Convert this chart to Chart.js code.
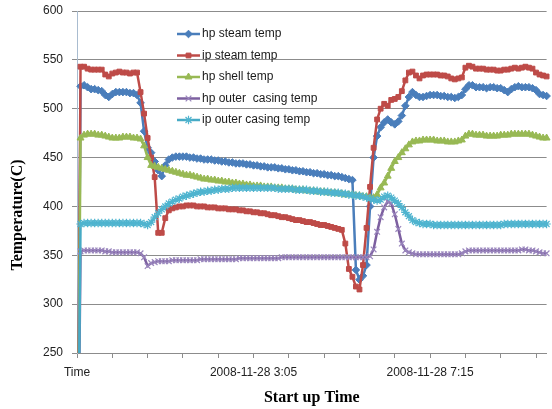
<!DOCTYPE html>
<html><head><meta charset="utf-8">
<script src="https://cdn.jsdelivr.net/npm/chart.js@4.4.0/dist/chart.umd.min.js"></script>
<style>html,body{margin:0;padding:0;background:#fff;overflow:hidden}#wrap{width:552px;height:409px;position:relative}</style>
</head><body><div id="wrap"><canvas id="c" width="552" height="409"></canvas></div>
<script>
// ---- DATA ----
const seriesNames = ['hp steam temp', 'ip steam temp', 'hp shell temp', 'hp outer  casing temp', 'ip outer casing temp'];

// category 0 is the header cell "Time"; then 5-minute samples from 2008-11-27 23:00
const categories = ['Time'];
for (let k = 0; k < 133; k++) {
  const t = 23 * 60 + 5 * k;
  const day = t >= 1440 ? 28 : 27;
  const m = t % 1440;
  categories.push('2008-11-' + day + ' ' + Math.floor(m / 60) + ':' + String(m % 60).padStart(2, '0'));
}
const labelEvery = 50;   // axis label interval (categories)
const tickMarkEvery = 10; // tick-mark interval (categories)

const hpSteamTemp = [0,
 523, 524, 522, 520, 520, 519, 518, 514, 512, 515,
 517, 517, 517, 517, 516, 516, 514, 506, 477, 460,
 455, 446, 437, 431, 442, 448, 450, 451, 451, 451,
 451, 450, 450, 449, 449, 448, 448, 448, 447, 447,
 446, 446, 445, 445, 444, 444, 444, 443, 443, 442,
 442, 441, 441, 440, 440, 440, 439, 439, 438, 438,
 437, 437, 436, 436, 435, 435, 434, 434, 433, 433,
 432, 432, 431, 431, 430, 429, 428, 427, 335, 325,
 329, 340, 400, 450, 472, 481, 486, 489, 486, 484,
 487, 493, 503, 512, 517, 514, 512, 512, 513, 514,
 514, 514, 513, 513, 512, 512, 511, 512, 514, 520,
 524, 524, 522, 522, 522, 521, 522, 522, 521, 521,
 519, 517, 520, 522, 523, 522, 522, 522, 521, 519,
 515, 514, 513];

const ipSteamTemp = [0,
 543, 543, 541, 540, 540, 540, 540, 535, 533, 536,
 537, 538, 537, 537, 536, 537, 537, 517, 495, 470,
 450, 430, 373, 373, 388, 396, 398, 399, 400, 400,
 401, 401, 401, 400, 400, 400, 399, 399, 399, 398,
 398, 398, 397, 397, 397, 396, 396, 395, 395, 394,
 394, 393, 393, 392, 391, 391, 390, 389, 389, 388,
 387, 386, 386, 385, 384, 384, 383, 382, 381, 381,
 380, 379, 378, 377, 376, 362, 336, 328, 318, 315,
 340, 378, 420, 460, 489, 500, 505, 503, 509, 510,
 512, 518, 529, 537, 538, 534, 531, 534, 535, 535,
 535, 535, 534, 534, 533, 531, 530, 531, 532, 542,
 544, 543, 541, 541, 541, 540, 540, 540, 539, 539,
 540, 540, 541, 542, 541, 542, 543, 542, 541, 537,
 535, 534, 533];

const hpShellTemp = [0,
 470, 473, 474, 474, 474, 473, 473, 472, 471, 470,
 470, 470, 471, 471, 471, 470, 470, 469, 462, 450,
 442, 441, 440, 439, 438, 437, 436, 435, 434, 433,
 432, 432, 431, 430, 429, 428, 428, 427, 427, 426,
 426, 425, 425, 424, 424, 423, 423, 422, 422, 421,
 421, 421, 420, 420, 420, 419, 419, 419, 418, 418,
 418, 417, 417, 417, 416, 416, 416, 415, 415, 415,
 414, 414, 414, 413, 413, 412, 412, 412, 411, 411,
 410, 410, 409, 409, 412, 419, 424, 431, 439, 446,
 450, 455, 459, 463, 466, 467, 467, 468, 468, 468,
 468, 467, 467, 467, 466, 466, 466, 467, 468, 472,
 474, 474, 473, 473, 473, 472, 472, 472, 472, 473,
 473, 473, 474, 474, 474, 474, 474, 474, 473, 472,
 471, 470, 470];

const hpOuterCasingTemp = [0,
 354, 355, 355, 355, 355, 355, 355, 354, 354, 353,
 353, 353, 353, 353, 353, 353, 353, 352, 348, 339,
 342, 343, 344, 344, 344, 344, 345, 345, 345, 345,
 345, 345, 345, 345, 346, 346, 346, 346, 346, 346,
 346, 346, 346, 346, 346, 347, 347, 347, 347, 347,
 347, 347, 347, 347, 347, 347, 347, 348, 348, 348,
 348, 348, 348, 348, 348, 348, 348, 348, 348, 348,
 348, 348, 348, 348, 348, 348, 348, 348, 348, 348,
 348, 348, 349, 356, 374, 389, 399, 405, 403, 392,
 377, 362, 355, 353, 352, 351, 351, 351, 351, 351,
 351, 351, 351, 351, 351, 351, 351, 351, 352, 354,
 355, 355, 355, 355, 355, 355, 355, 355, 355, 355,
 355, 355, 355, 355, 355, 356, 356, 355, 355, 354,
 353, 352, 352];

const ipOuterCasingTemp = [0,
 382, 383, 383, 383, 383, 383, 383, 383, 383, 383,
 383, 383, 383, 383, 383, 383, 383, 383, 382, 381,
 384, 389, 393, 397, 400, 403, 405, 407, 408, 410,
 411, 412, 413, 414, 415, 415, 416, 416, 417, 417,
 418, 418, 418, 419, 419, 419, 419, 419, 419, 419,
 419, 419, 419, 419, 419, 419, 418, 418, 418, 418,
 418, 417, 417, 417, 417, 416, 416, 416, 415, 415,
 415, 414, 414, 414, 413, 413, 412, 412, 411, 411,
 410, 409, 408, 407, 406, 407, 410, 411, 409, 406,
 403, 399, 394, 390, 386, 384, 383, 382, 382, 382,
 381, 381, 381, 381, 381, 381, 381, 381, 381, 381,
 381, 381, 381, 381, 381, 381, 381, 381, 381, 381,
 382, 382, 382, 382, 382, 382, 382, 382, 382, 382,
 382, 382, 382];

const yTicks = { min: 250, max: 600, step: 50 };
const xTitle = 'Start up Time';
const yTitle = 'Temperature(C)';

// ---- STYLE ----
const SANS = '"Liberation Sans", Arial, sans-serif';
const SERIF = '"Liberation Serif", "Times New Roman", serif';

const styles = [
  { color: '#4a7ebb', point: 'rectRot', r: 3.8, pbw: 1 },
  { color: '#be4b48', point: 'rect', r: 3.4, pbw: 1 },
  { color: '#98b954', point: 'triangle', r: 4, pbw: 1 },
  { color: '#7d60a0', pcolor: '#9a86bd', point: 'crossRot', r: 4, pbw: 1.2 },
  { color: '#46aac5', pcolor: '#4fb4cf', point: 'star', r: 4.2, pbw: 1.2 }
];
const seriesValues = [hpSteamTemp, ipSteamTemp, hpShellTemp, hpOuterCasingTemp, ipOuterCasingTemp];

const datasets = seriesValues.map((vals, i) => ({
  label: seriesNames[i],
  data: vals,
  borderColor: styles[i].color,
  backgroundColor: styles[i].color,
  borderWidth: 2.5,
  tension: 0,
  pointStyle: styles[i].point,
  pointRadius: styles[i].r,
  pointBorderWidth: styles[i].pbw,
  pointBackgroundColor: styles[i].pcolor || styles[i].color,
  pointBorderColor: styles[i].pcolor || styles[i].color,
  order: 5 - i
}));

const legendPlugin = {
  id: 'excelLegend',
  afterDraw(chart) {
    const ctx = chart.ctx;
    const x0 = 177, x1 = 200, tx = 202;
    const rowY = [34, 55.5, 77, 98.5, 120];
    chart.data.datasets.forEach((ds, i) => {
      const y = rowY[i];
      ctx.save();
      ctx.strokeStyle = ds.borderColor;
      ctx.lineWidth = 2.5;
      ctx.beginPath(); ctx.moveTo(x0, y); ctx.lineTo(x1, y); ctx.stroke();
      ctx.fillStyle = ds.pointBackgroundColor;
      ctx.strokeStyle = ds.pointBorderColor;
      ctx.lineWidth = ds.pointBorderWidth;
      Chart.helpers.drawPoint(ctx, { pointStyle: ds.pointStyle, radius: ds.pointRadius, rotation: 0, borderWidth: ds.pointBorderWidth }, (x0 + x1) / 2, y);
      ctx.fillStyle = '#1a1a1a';
      ctx.font = '12px ' + SANS;
      ctx.textBaseline = 'middle';
      ctx.textAlign = 'left';
      ctx.fillText(ds.label, tx, y);
      ctx.restore();
    });
  }
};

const titlesPlugin = {
  id: 'axisTitles',
  afterDraw(chart) {
    const ctx = chart.ctx;
    const ca = chart.chartArea;
    ctx.save();
    ctx.fillStyle = '#000';
    ctx.font = 'bold 16px ' + SERIF;
    ctx.textAlign = 'center';
    ctx.textBaseline = 'middle';
    ctx.fillText(xTitle, (ca.left + ca.right) / 2, 398);
    ctx.translate(18, 215);
    ctx.rotate(-Math.PI / 2);
    ctx.fillText(yTitle, 0, 0);
    ctx.restore();
  }
};

new Chart(document.getElementById('c'), {
  type: 'line',
  data: { labels: categories, datasets },
  options: {
    responsive: false,
    devicePixelRatio: 1,
    animation: false,
    layout: { padding: { top: 11, right: 1, left: 0, bottom: 0 } },
    plugins: { legend: { display: false }, tooltip: { enabled: false } },
    elements: { line: { tension: 0 } },
    scales: {
      x: {
        type: 'category',
        offset: false,
        afterFit: s => { s.height = 56; s.paddingLeft = 0; s.paddingRight = 0; },
        grid: {
          drawOnChartArea: false,
          drawTicks: true,
          tickLength: 5,
          color: c => (c.index % tickMarkEvery === 0 ? '#8c8c8c' : 'rgba(0,0,0,0)')
        },
        border: { color: '#8c8c8c', width: 1 },
        ticks: {
          autoSkip: false,
          maxRotation: 0,
          minRotation: 0,
          padding: 7,
          color: '#222',
          font: { family: SANS, size: 12 },
          callback: (v, i) => (i % labelEvery === 0 ? categories[i] : '')
        }
      },
      y: {
        min: yTicks.min,
        max: yTicks.max,
        afterFit: s => { s.width = 77; s.paddingTop = 0; s.paddingBottom = 0; },
        grid: { color: '#8c8c8c', lineWidth: 1, drawTicks: true, tickLength: 5 },
        border: { color: '#a9bcd0', width: 1 },
        ticks: {
          stepSize: yTicks.step,
          padding: 9,
          color: '#222',
          font: { family: SANS, size: 12 }
        }
      }
    }
  },
  plugins: [legendPlugin, titlesPlugin]
});
</script></body></html>
